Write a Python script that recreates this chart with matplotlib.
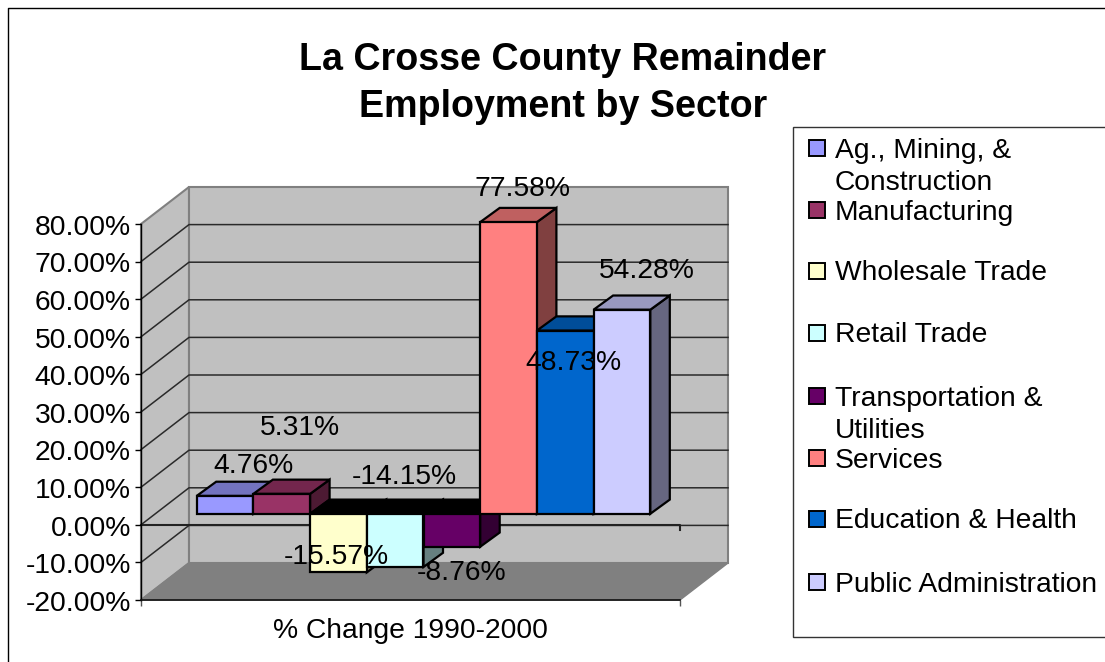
import matplotlib
matplotlib.use("Agg")
import matplotlib.pyplot as plt
from matplotlib.patches import Polygon, Rectangle
from matplotlib.transforms import ScaledTranslation
import numpy as np

plt.rcParams["font.family"] = ["Liberation Sans", "DejaVu Sans"]

# data
sectors = ["Ag., Mining, &\nConstruction", "Manufacturing", "Wholesale Trade", "Retail Trade",
           "Transportation &\nUtilities", "Services", "Education & Health", "Public Administration"]
pct_change = [4.76, 5.31, -15.57, -14.15, -8.76, 77.58, 48.73, 54.28]
colors = ["#9999FF", "#993366", "#FFFFCC", "#CCFFFF", "#660066", "#FF8080", "#0066CC", "#CCCCFF"]
y_ticks = [-20, -10, 0, 10, 20, 30, 40, 50, 60, 70, 80]
category = "% Change 1990-2000"
title = "La Crosse County Remainder\nEmployment by Sector"

# label offsets in pixels from the end of each bar
label_offsets = [(28, 30), (18, 66), (-2, 15), (9, 90), (10, -26), (14, 33), (8, -32), (25, 39)]
legend_y = [148, 210, 271, 333, 396, 458, 519, 582]

FS = 20.3
PX_X = 56.7  # one bar width
PX_Y = 3.76  # one percent
X_MAX = 539 / PX_X
WALL_DX, WALL_DY = 48 / PX_X, 37 / PX_Y  # depth of the box
PLANE_DX, PLANE_DY = 13 / PX_X, 11 / PX_Y  # bars sit this far back
BAR_DX, BAR_DY = 19.5 / PX_X, 14.2 / PX_Y  # depth of a bar


def shade(color, k):
    rgb = np.array(matplotlib.colors.to_rgb(color))
    return tuple(rgb * k)


fig = plt.figure(figsize=(11.05, 6.62), dpi=100)

# frame, title and legend live in a pixel overlay
bg = fig.add_axes([0, 0, 1, 1], zorder=2)
bg.set_xlim(0, 1105)
bg.set_ylim(662, 0)
bg.axis("off")
bg.patch.set_alpha(0)
bg.plot([8, 8, 1105], [662, 8, 8], color="black", lw=1)
bg.add_patch(Rectangle((793, 127), 330, 510, fc="white", ec="#333333", lw=1))
bg.text(563, 83.5, title, ha="center", va="center", fontsize=27.1, fontweight="bold", linespacing=1.38)
for name, c, y in zip(sectors, colors, legend_y):
    bg.add_patch(Rectangle((809, y - 8), 16, 16, fc=c, ec="black", lw=1.4))
    bg.text(835, y - 10.5, name, ha="left", va="top", fontsize=FS, linespacing=1.3)

ax = fig.add_axes([141 / 1105, 62 / 662, 539 / 1105, 376 / 662], zorder=3)
ax.patch.set_alpha(0)
ax.set_xlim(0, X_MAX)
ax.set_ylim(y_ticks[0], y_ticks[-1])

# box: side wall, back wall, floor
y0, y1 = y_ticks[0], y_ticks[-1]
ax.add_patch(Polygon([(0, y0), (WALL_DX, y0 + WALL_DY), (WALL_DX, y1 + WALL_DY), (0, y1)],
                     fc="#C0C0C0", ec="#808080", lw=1.5, clip_on=False, zorder=1))
ax.add_patch(Rectangle((WALL_DX, y0 + WALL_DY), X_MAX, y1 - y0, fc="#C0C0C0", ec="#808080",
                       lw=1.5, clip_on=False, zorder=1))
ax.add_patch(Polygon([(0, y0), (X_MAX, y0), (X_MAX + WALL_DX, y0 + WALL_DY), (WALL_DX, y0 + WALL_DY)],
                     fc="#808080", ec="#808080", lw=1, clip_on=False, zorder=1.1))
for t in y_ticks[1:-1]:
    ax.plot([0, WALL_DX, WALL_DX + X_MAX], [t, t + WALL_DY, t + WALL_DY], color="#2a2a2a", lw=1.1,
            clip_on=False, zorder=1.2)

# zero line in the front plane
ax.plot([0, X_MAX, X_MAX], [0, 0, -1.4], color="#222222", lw=1.5, clip_on=False, zorder=1.3)

# bars from back to front, left to right
x_start = (X_MAX - len(pct_change)) / 2 + PLANE_DX
z = 2
for i, (v, c) in enumerate(zip(pct_change, colors)):
    left = x_start + i
    right = left + 1
    end = v + PLANE_DY
    top = max(end, PLANE_DY)
    low = min(end, PLANE_DY)
    side = [(right, low), (right + BAR_DX, low + BAR_DY), (right + BAR_DX, top + BAR_DY), (right, top)]
    ax.add_patch(Polygon(side, fc=shade(c, 0.5), ec="black", lw=1.6, clip_on=False, zorder=z))
    cap = [(left, top), (right, top), (right + BAR_DX, top + BAR_DY), (left + BAR_DX, top + BAR_DY)]
    cap_color = "black" if v < 0 else shade(c, 0.75)
    ax.add_patch(Polygon(cap, fc=cap_color, ec="black", lw=1.6, clip_on=False, zorder=z))
    ax.bar(left, v, bottom=PLANE_DY, width=1, align="edge", color=c, edgecolor="black", lw=1.6,
           clip_on=False, zorder=z)
    z += 0.1

for i, (v, off) in enumerate(zip(pct_change, label_offsets)):
    ax.annotate(f"{v:.2f}%", xy=(x_start + i + 0.5, v + PLANE_DY), xytext=off, textcoords="offset pixels",
                ha="center", va="center", fontsize=FS, annotation_clip=False, zorder=5)

for s in ["top", "right"]:
    ax.spines[s].set_visible(False)
ax.spines["left"].set_color("black")
ax.spines["bottom"].set_color("#111111")
ax.spines["left"].set_linewidth(1)
ax.spines["bottom"].set_linewidth(1.2)
ax.set_yticks(y_ticks)
ax.set_yticklabels([f"{t:.2f}%" for t in y_ticks], fontsize=FS)
ax.set_xticks([0, X_MAX])
ax.set_xticklabels(["", ""])
ax.tick_params(axis="both", length=4.3, width=1, pad=3)
ax.tick_params(axis="x", color="#555555")
ax.set_xlabel(category, fontsize=FS, labelpad=5.5)

# tick labels sit a little lower than the ticks
nudge = ScaledTranslation(0, -0.7 / 100, fig.dpi_scale_trans)
for lab in ax.get_yticklabels():
    lab.set_transform(lab.get_transform() + nudge)

fig.savefig("out.png", dpi=100)
